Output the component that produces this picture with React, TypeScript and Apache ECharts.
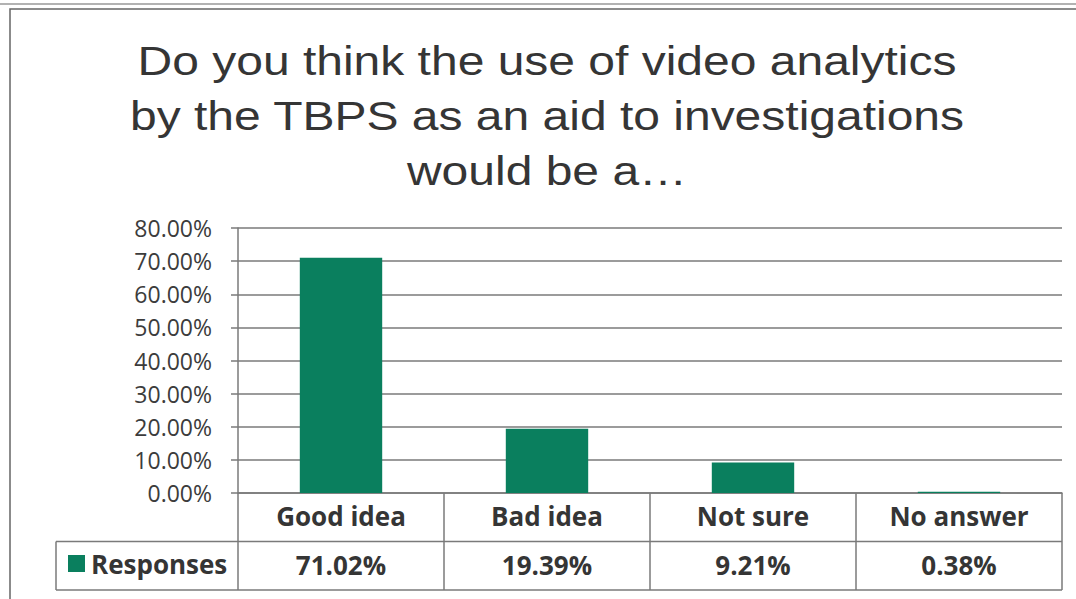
import React, { useEffect, useRef } from "react";
import * as echarts from "echarts";

const categories = ["Good idea", "Bad idea", "Not sure", "No answer"];
const responses = [71.02, 19.39, 9.21, 0.38];
const seriesName = "Responses";
const titleLines = [
  "Do you think the use of video analytics",
  "by the TBPS as an aid to investigations",
  "would be a…",
];
const yMin = 0;
const yMax = 80;
const yStep = 10;

const W = 1076;
const H = 599;
const GL = 238;
const GR = 1062;
const GT = 228;
const GB = 493;
const ROW = 48.5;
const LEG_L = 56;
const LINE = "#7a7a7a";
const TXT = "#353535";
const BAR = "#0a7f5e";
const FONT = "'Open Sans', Lato, sans-serif";

export default function App() {
  const ref = useRef<HTMLDivElement>(null);
  useEffect(() => {
    document.body.style.margin = "0";
    const chart = echarts.init(ref.current!, null, { renderer: "svg" });
    const tableBottom = GB + ROW * 2;
    const titleY = [61, 116, 171];
    chart.setOption({
      animation: false,
      backgroundColor: "#ffffff",
      legend: {
        left: 63,
        top: GB + ROW + 4,
        icon: "rect",
        itemWidth: 17,
        itemHeight: 17,
        itemGap: 0,
        textStyle: { fontFamily: FONT, fontSize: 26, fontWeight: "bold", color: TXT, padding: [0, 0, 0, 1] },
        data: [seriesName],
      },
      grid: { left: GL, right: W - GR, top: GT, bottom: H - GB, containLabel: false },
      xAxis: [
        {
          type: "category",
          data: categories,
          position: "bottom",
          axisLine: { show: true, lineStyle: { color: LINE, width: 1.5 } },
          axisTick: { show: true, length: ROW * 2, lineStyle: { color: LINE, width: 1.5 } },
          axisLabel: { margin: 10, fontFamily: FONT, fontSize: 26, fontWeight: "bold", color: TXT },
        },
        {
          type: "category",
          data: responses.map((v) => v.toFixed(2) + "%"),
          position: "bottom",
          offset: ROW,
          axisLine: { show: false },
          axisTick: { show: false },
          axisLabel: { margin: 10, fontFamily: FONT, fontSize: 26, fontWeight: "bold", color: TXT },
        },
      ],
      yAxis: {
        type: "value",
        min: yMin,
        max: yMax,
        interval: yStep,
        axisLine: { show: true, lineStyle: { color: LINE, width: 1.5 } },
        axisTick: { show: true, length: 7, lineStyle: { color: LINE, width: 1.5 } },
        splitLine: { show: true, lineStyle: { color: LINE, width: 1.5 } },
        axisLabel: {
          margin: 26,
          fontFamily: FONT,
          fontSize: 23,
          color: "#3c3c3c",
          formatter: (v: number) => v.toFixed(2) + "%",
        },
      },
      series: [
        {
          name: seriesName,
          type: "bar",
          data: responses,
          barWidth: "40%",
          itemStyle: { color: BAR },
        },
      ],
      graphic: [
        { type: "line", shape: { x1: 0, y1: 4, x2: W, y2: 4 }, style: { stroke: "#999", lineWidth: 1.5 } },
        { type: "rect", shape: { x: 10, y: 9, width: W + 20, height: H + 20 }, style: { fill: "none", stroke: "#666", lineWidth: 1.5 } },
        { type: "line", shape: { x1: LEG_L, y1: GB + ROW, x2: GR, y2: GB + ROW }, style: { stroke: LINE, lineWidth: 1.5 } },
        { type: "line", shape: { x1: LEG_L, y1: tableBottom, x2: GR, y2: tableBottom }, style: { stroke: LINE, lineWidth: 1.5 } },
        { type: "line", shape: { x1: LEG_L, y1: GB + ROW, x2: LEG_L, y2: tableBottom }, style: { stroke: LINE, lineWidth: 1.5 } },
        ...titleLines.map((t, i) => ({
          type: "text",
          x: 547,
          y: titleY[i],
          scaleX: 1.2,
          style: {
            text: t,
            fontFamily: "'Liberation Sans', Arial, sans-serif",
            fontSize: 40,
            fill: TXT,
            align: "center",
            verticalAlign: "middle",
          },
        })),
      ],
    });
    return () => chart.dispose();
  }, []);
  return <div ref={ref} style={{ width: W, height: H }} />;
}
